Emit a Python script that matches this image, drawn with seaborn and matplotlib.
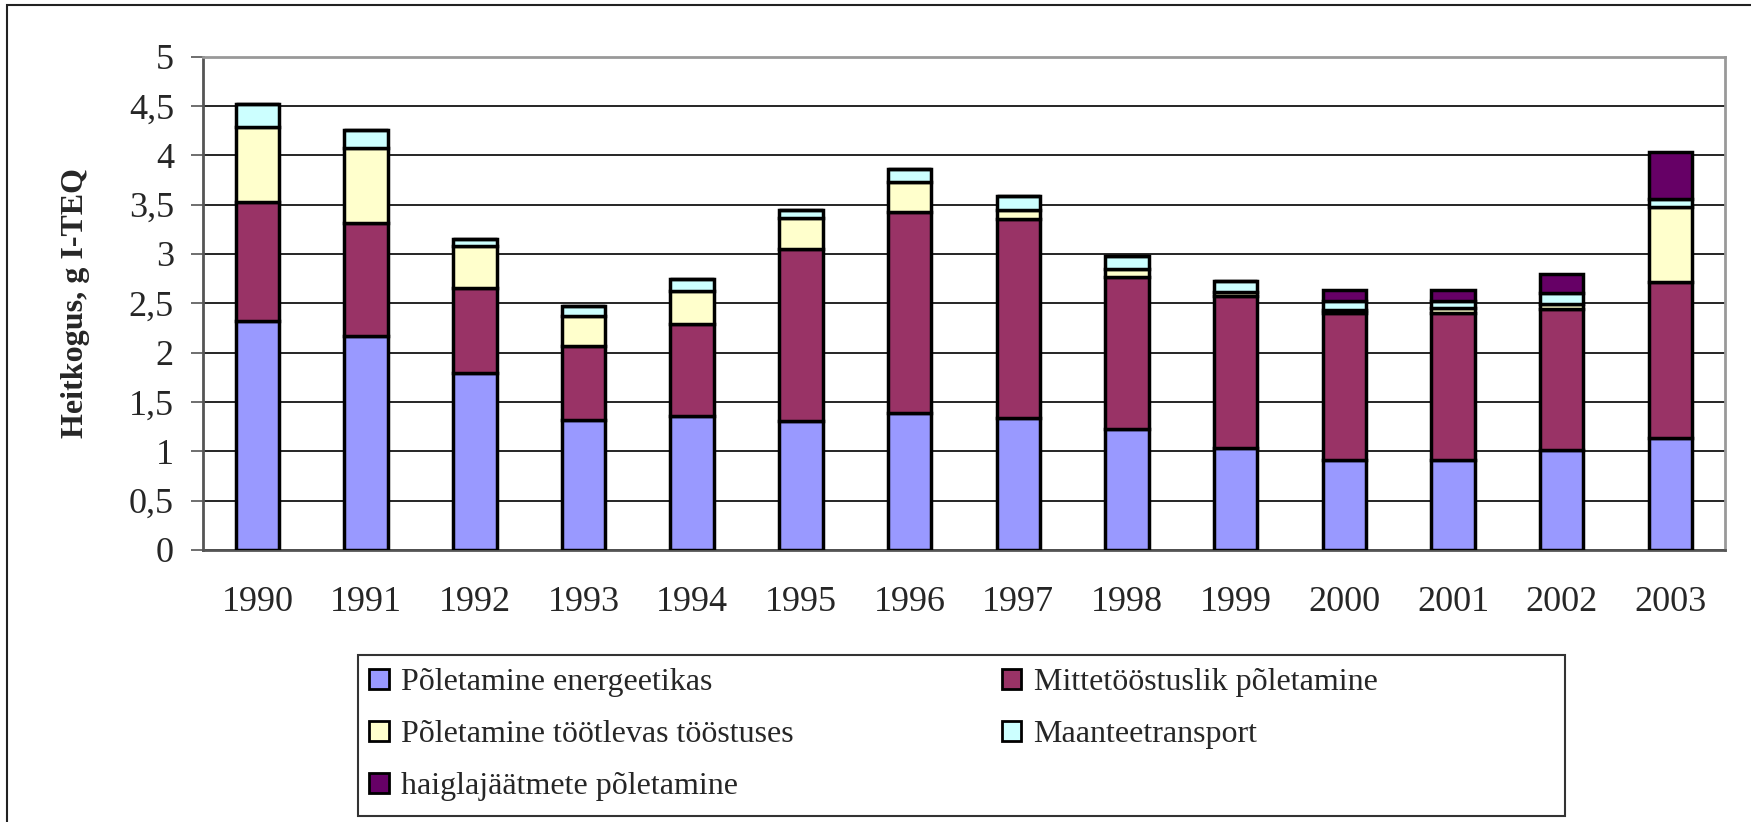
import pandas as pd
import seaborn as sns
import matplotlib.pyplot as plt
from matplotlib.patches import Rectangle, Patch

# --- data ---
years = ["1990", "1991", "1992", "1993", "1994", "1995", "1996",
         "1997", "1998", "1999", "2000", "2001", "2002", "2003"]
energeetika = [2.32, 2.17, 1.79, 1.32, 1.36, 1.31, 1.39, 1.34, 1.23, 1.03, 0.91, 0.91, 1.01, 1.13]
mittetoostus = [1.21, 1.14, 0.87, 0.75, 0.93, 1.74, 2.04, 2.01, 1.54, 1.54, 1.49, 1.49, 1.43, 1.59]
tootlev = [0.76, 0.76, 0.42, 0.30, 0.33, 0.31, 0.30, 0.10, 0.08, 0.04, 0.03, 0.05, 0.05, 0.76]
maantee = [0.23, 0.19, 0.07, 0.10, 0.13, 0.09, 0.13, 0.14, 0.13, 0.12, 0.09, 0.07, 0.11, 0.08]
haigla = [0, 0, 0, 0, 0, 0, 0, 0, 0, 0, 0.11, 0.11, 0.20, 0.47]

series = [
    ("Põletamine energeetikas", energeetika, "#9999FF"),
    ("Mittetööstuslik põletamine", mittetoostus, "#993366"),
    ("Põletamine töötlevas tööstuses", tootlev, "#FFFFCC"),
    ("Maanteetransport", maantee, "#CCFFFF"),
    ("haiglajäätmete põletamine", haigla, "#660066"),
]
yticks = [0, 0.5, 1, 1.5, 2, 2.5, 3, 3.5, 4, 4.5, 5]
ytick_labels = ["0", "0,5", "1", "1,5", "2", "2,5", "3", "3,5", "4", "4,5", "5"]

sns.set_style("white")
plt.rcParams['font.family'] = ['Liberation Serif', 'DejaVu Serif']

fig = plt.figure(figsize=(17.51, 8.22), dpi=100)
ax = fig.add_axes([0.116, 0.331, 0.869, 0.600])

# --- stacked bars ---
bottom = [0.0] * len(years)
for name, vals, color in series:
    df = pd.DataFrame({"year": years, "value": vals})
    sns.barplot(data=df, x="year", y="value", bottom=bottom, color=color,
                edgecolor="black", linewidth=2.5, width=0.4, saturation=1,
                ax=ax, zorder=3)
    bottom = [b + v for b, v in zip(bottom, vals)]

# --- axes styling ---
ax.set_xlim(-0.5, len(years) - 0.5)
ax.set_ylim(0, 5)
ax.set_yticks(yticks)
ax.set_yticklabels(ytick_labels, fontsize=26)
ax.yaxis.grid(True, color="black", linewidth=1.2, zorder=0)
ax.set_axisbelow(True)
ax.tick_params(axis="y", length=9, width=1.2, color="#555555", pad=12, left=True)
ax.tick_params(axis="x", which="major", length=0, labelsize=26, pad=26)
ax.set_xticks([i + 0.5 for i in range(len(years))], minor=True)
ax.tick_params(axis="x", which="minor", length=9, width=1.2, color="#555555")
ax.set_xlabel("")
ax.set_ylabel("Heitkogus, g I-TEQ", fontsize=23, fontweight="bold", labelpad=28)
for side in ["top", "right"]:
    ax.spines[side].set_color("#999999")
    ax.spines[side].set_linewidth(2)
for side in ["left", "bottom"]:
    ax.spines[side].set_color("#555555")
    ax.spines[side].set_linewidth(2)

# --- legend (frame drawn separately) ---
order = [0, 2, 4, 1, 3]
handles = [Patch(facecolor=series[i][2], edgecolor="black", linewidth=2) for i in order]
labels = [series[i][0] for i in order]
fig.legend(handles, labels, ncol=2, loc="upper left",
           bbox_to_anchor=(0.211, 0.187), frameon=False, borderaxespad=0,
           fontsize=23, handlelength=0.6, handleheight=0.6, handletextpad=0.4,
           labelspacing=0.72, columnspacing=6.5, borderpad=0)
fig.patches.append(Rectangle((358 / 1751, 6 / 822), 1207 / 1751, 161 / 822,
                             transform=fig.transFigure, fill=False,
                             edgecolor="#333333", linewidth=1.5))

# outer chart frame (only left and top edges fall inside the image)
fig.patches.append(Rectangle((7 / 1751, -0.05), 1.1, 1.05 - 5 / 822,
                             transform=fig.transFigure, fill=False,
                             edgecolor="#222222", linewidth=1.5))

fig.savefig("out.png", dpi=100)
